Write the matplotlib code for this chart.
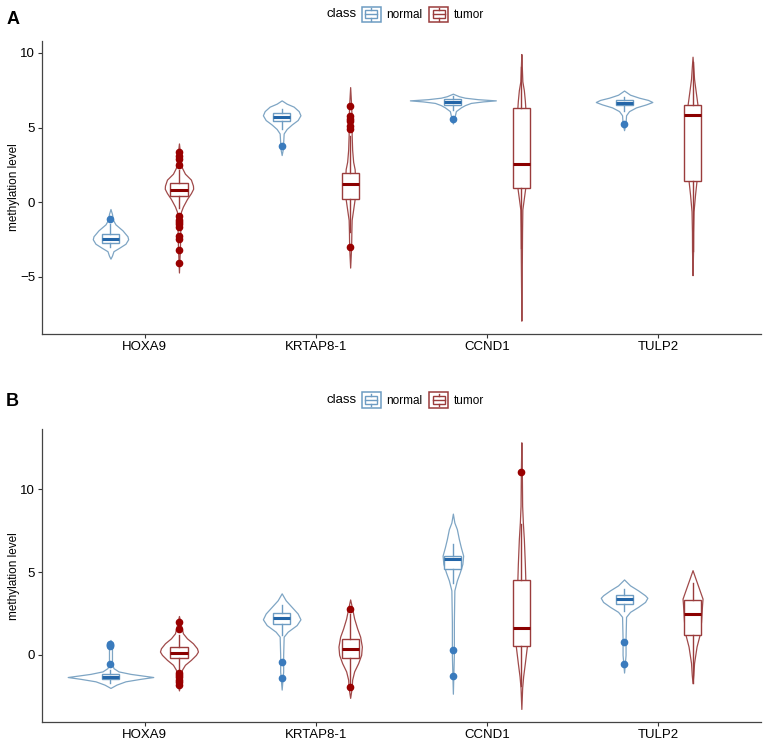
import matplotlib
matplotlib.use("Agg")
import matplotlib.pyplot as plt
from matplotlib.patches import Rectangle, Patch
from matplotlib.lines import Line2D
from matplotlib.legend_handler import HandlerBase

plt.rcParams['font.family'] = ['Liberation Sans', 'DejaVu Sans']

genes = ["HOXA9", "KRTAP8-1", "CCND1", "TULP2"]
classes = ["normal", "tumor"]

# box stats per gene: whisker low, q1, median, q3, whisker high
a_normal_box = [[-3.05, -2.73, -2.47, -2.13, -1.5], [4.93, 5.44, 5.73, 6.0, 6.22],
                [6.2, 6.53, 6.71, 6.89, 7.1], [6.1, 6.49, 6.66, 6.82, 7.05]]
a_tumor_box = [[-0.4, 0.42, 0.82, 1.27, 2.15], [-2.0, 0.2, 1.2, 1.93, 4.4],
               [-3.06, 0.93, 2.53, 6.31, 9.07], [-3.29, 1.44, 5.82, 6.53, 9.37]]
a_normal_out = [[-1.13], [3.75], [5.6], [5.22]]
a_tumor_out = [[3.33, 3.1, 2.87, 2.49, -0.96, -1.2, -1.35, -1.5, -1.65, -2.29, -2.51, -3.23, -4.07],
               [6.42, 5.75, 5.6, 5.44, 5.09, 4.93, -3.03], [], []]

b_normal_box = [[-1.7, -1.46, -1.34, -1.16, -0.9], [1.2, 1.87, 2.21, 2.51, 3.0],
                [4.32, 5.18, 5.8, 5.95, 6.73], [2.67, 3.09, 3.35, 3.6, 4.0]]
b_tumor_box = [[-1.0, -0.2, 0.14, 0.46, 1.2], [-1.7, -0.2, 0.36, 0.95, 2.5],
               [-1.9, 0.54, 1.63, 4.52, 7.93], [-1.71, 1.2, 2.45, 3.31, 4.32]]
b_normal_out = [[0.66, 0.6, 0.54, -0.56], [-0.42, -1.41], [0.3, -1.3], [0.8, -0.54]]
b_tumor_out = [[2.0, 1.57, -1.1, -1.2, -1.35, -1.5, -1.65, -1.8], [2.75, -1.95], [11.04], []]

# violin outlines: (y values, density)
a_normal_vio = [
    ([-0.47, -0.8, -1.2, -1.5, -1.9, -2.3, -2.5, -2.8, -3.1, -3.3, -3.6, -3.8],
     [0, 1.5, 2.5, 5, 12, 17, 17.7, 15, 8, 3, 1.5, 0]),
    ([6.82, 6.6, 6.4, 6.1, 5.82, 5.5, 5.2, 4.9, 4.6, 4.0, 3.5, 3.15],
     [0, 5, 12, 17, 18.8, 16, 10, 5, 2, 1.5, 1, 0]),
    ([7.27, 7.1, 7.0, 6.9, 6.82, 6.75, 6.65, 6.5, 6.35, 6.1, 5.8, 5.27],
     [0, 6, 12, 25, 43, 30, 18, 12, 8, 3, 2, 0]),
    ([7.48, 7.2, 7.0, 6.85, 6.71, 6.55, 6.35, 6.1, 5.82, 5.3, 4.82],
     [0, 6, 15, 24, 28.3, 22, 12, 5, 2, 1.5, 0]),
]
a_tumor_vio = [
    ([3.93, 3.0, 2.3, 1.9, 1.5, 1.1, 0.89, 0.6, 0.2, -0.3, -0.65, -1.5, -3.0, -4.73],
     [0, 1.5, 3, 6, 12, 14, 14.2, 12, 8, 4, 2, 1.5, 1, 0]),
    ([7.71, 6.5, 5.5, 4.5, 3.5, 2.7, 2.2, 1.5, 0.8, 0.2, -0.5, -1.2, -2.0, -3.0, -4.4],
     [0, 1, 1.5, 1.5, 2, 3, 4.5, 5, 5, 4.5, 3, 1.5, 1.2, 1, 0]),
    ([9.93, 9.0, 8.1, 7.5, 6.8, 6.3, 4.0, 2.5, 1.0, 0.5, 0.0, -0.5, -2.0, -4.0, -7.96],
     [0, 0.5, 1, 2.5, 3.5, 4, 4.5, 4.5, 4, 3, 2, 1, 0.7, 0.5, 0]),
    ([9.75, 9.0, 8.27, 7.5, 6.5, 5.8, 4.0, 2.5, 1.44, 0.5, -0.63, -2.0, -3.3, -4.91],
     [0, 0.8, 1.5, 3, 5, 5.5, 5, 4.5, 4, 2.5, 1, 0.6, 0.5, 0]),
]
b_normal_vio = [
    ([0.9, 0.5, -0.5, -0.8, -1.0, -1.15, -1.3, -1.34, -1.45, -1.6, -1.8, -2.0],
     [0, 1.5, 1.5, 3, 8, 20, 38, 42.8, 30, 15, 6, 0]),
    ([3.72, 3.3, 2.9, 2.5, 2.15, 1.8, 1.4, 1.1, 0, -1, -2.1],
     [0, 4, 10, 16, 18.8, 15, 6, 2, 1.5, 1.5, 0]),
    ([8.54, 8.0, 7.6, 7.0, 6.5, 6.0, 5.5, 5.0, 4.5, 3.9, 2, 0, -2.35],
     [0, 1.5, 4, 6, 8, 10.3, 9.5, 7, 4, 1.5, 1, 1, 0]),
    ([4.56, 4.2, 3.9, 3.6, 3.45, 3.2, 2.9, 2.6, 2.3, 1, 0, -1.07],
     [0, 6, 14, 21, 23.3, 21, 14, 6, 2, 1.5, 1.5, 0]),
]
b_tumor_vio = [
    ([2.35, 1.8, 1.3, 1.0, 0.7, 0.4, 0.2, 0.0, -0.3, -0.6, -0.9, -1.5, -2.15],
     [0, 2, 4, 8, 14, 18, 19, 17, 12, 6, 3, 2, 0]),
    ([3.35, 2.8, 2.2, 1.6, 1.1, 0.5, 0, -0.5, -1.0, -1.5, -2.0, -2.6],
     [0, 2, 4, 7, 10, 11.7, 11, 8, 4, 2, 1.5, 0]),
    ([12.85, 11, 9, 8, 7, 5.5, 4.5, 3, 1.5, 0.5, -0.5, -1.3, -2, -3.27],
     [0, 0.5, 0.8, 1.5, 2.5, 3.5, 4, 4.5, 5, 5.5, 3.5, 1.8, 0.8, 0]),
    ([5.12, 4.6, 4.0, 3.4, 3.0, 2.0, 1.2, 0.5, -0.1, -0.5, -1.2, -1.71],
     [0, 3, 6.5, 10, 9.5, 8.5, 7, 4, 2.5, 1.5, 0.8, 0]),
]

VIO_SCALE = 1 / 171.3
DODGE = 0.2
colors = {
    "normal": dict(vio="#7ea5c4", box="#6e9cc2", med="#2466a8", pt="#3a7bbd"),
    "tumor": dict(vio="#a04a4a", box="#9a3c3c", med="#8b0000", pt="#990000"),
}


class BoxKeyHandler(HandlerBase):
    def create_artists(self, legend, orig_handle, xdescent, ydescent,
                       width, height, fontsize, trans):
        c = orig_handle.get_edgecolor()
        x0, y0 = -xdescent, -ydescent
        arts = [Rectangle((x0, y0), width, height, fc="white", ec=c, lw=1.1, transform=trans),
                Rectangle((x0 + 0.18 * width, y0 + 0.25 * height), 0.64 * width, 0.5 * height,
                          fc="white", ec=c, lw=1.0, transform=trans),
                Line2D([x0 + 0.18 * width, x0 + 0.82 * width], [y0 + 0.5 * height] * 2,
                       color=c, lw=1.0, transform=trans),
                Line2D([x0 + 0.5 * width] * 2, [y0 + 0.75 * height, y0 + 0.92 * height],
                       color=c, lw=1.0, transform=trans),
                Line2D([x0 + 0.5 * width] * 2, [y0 + 0.08 * height, y0 + 0.25 * height],
                       color=c, lw=1.0, transform=trans)]
        return arts


def draw_panel(ax, boxes, outs, vios):
    lo, hi = 0, 0
    for k, cl in enumerate(classes):
        col = colors[cl]
        off = -DODGE if k == 0 else DODGE
        pos = [i + 1 + off for i in range(len(genes))]
        for i, (ys, ws) in enumerate(vios[k]):
            w = [v * VIO_SCALE for v in ws]
            ax.fill_betweenx(ys, [pos[i] - v for v in w], [pos[i] + v for v in w],
                             facecolor="white", edgecolor=col["vio"], lw=0.9, zorder=2)
            lo, hi = min(lo, min(ys)), max(hi, max(ys))
        stats = []
        for b, o in zip(boxes[k], outs[k]):
            stats.append(dict(whislo=b[0], q1=b[1], med=b[2], q3=b[3], whishi=b[4], fliers=o))
        ax.bxp(stats, positions=pos, widths=0.1, patch_artist=True, showcaps=False,
               boxprops=dict(facecolor="white", edgecolor=col["box"], lw=1.0),
               whiskerprops=dict(color=col["box"], lw=1.0),
               medianprops=dict(color=col["med"], lw=2.2),
               flierprops=dict(marker="o", markerfacecolor=col["pt"], markeredgecolor=col["pt"],
                               markersize=4.5),
               zorder=3)
    pad = (hi - lo) * 0.05
    ax.set_ylim(lo - pad, hi + pad)
    ax.set_xlim(0.4, 4.6)
    ax.set_xticks(range(1, len(genes) + 1))
    ax.set_xticklabels(genes)
    for s in ["top", "right"]:
        ax.spines[s].set_visible(False)
    for s in ["left", "bottom"]:
        ax.spines[s].set_color("#444444")
        ax.spines[s].set_linewidth(0.9)
    ax.tick_params(length=3, width=0.8, color="#333333", labelsize=9.5, labelcolor="black", pad=2)
    ax.set_ylabel("methylation level", fontsize=8.5, labelpad=0)


fig = plt.figure(figsize=(7.65, 7.44), dpi=100)
axA = fig.add_axes([0.0549, 0.5511, 0.9399, 0.3942])
axB = fig.add_axes([0.0549, 0.0292, 0.9399, 0.3942])
draw_panel(axA, [a_normal_box, a_tumor_box], [a_normal_out, a_tumor_out], [a_normal_vio, a_tumor_vio])
draw_panel(axB, [b_normal_box, b_tumor_box], [b_normal_out, b_tumor_out], [b_normal_vio, b_tumor_vio])
axA.set_yticks([-5, 0, 5, 10])
axB.set_yticks([0, 5, 10])

handles = [Patch(facecolor="white", edgecolor=colors[c]["box"]) for c in classes]
for ylab, label in [(0.981, "A"), (0.4624, "B")]:
    fig.legend(handles, classes, loc="center left", bbox_to_anchor=(362 / 765, ylab),
               ncol=2, frameon=False, fontsize=8.5, handlelength=1.6, handleheight=1.6,
               handletextpad=0.45, columnspacing=0.6, borderpad=0, borderaxespad=0,
               handler_map={Patch: BoxKeyHandler()})
    fig.text(357 / 765, ylab, "class", ha="right", va="center", fontsize=9.5)
fig.text(0.008, 0.985, "A", fontsize=13, fontweight="bold", va="top")
fig.text(0.008, 0.46, "B", fontsize=13, fontweight="bold", va="center")

fig.savefig("out.png", dpi=100)
